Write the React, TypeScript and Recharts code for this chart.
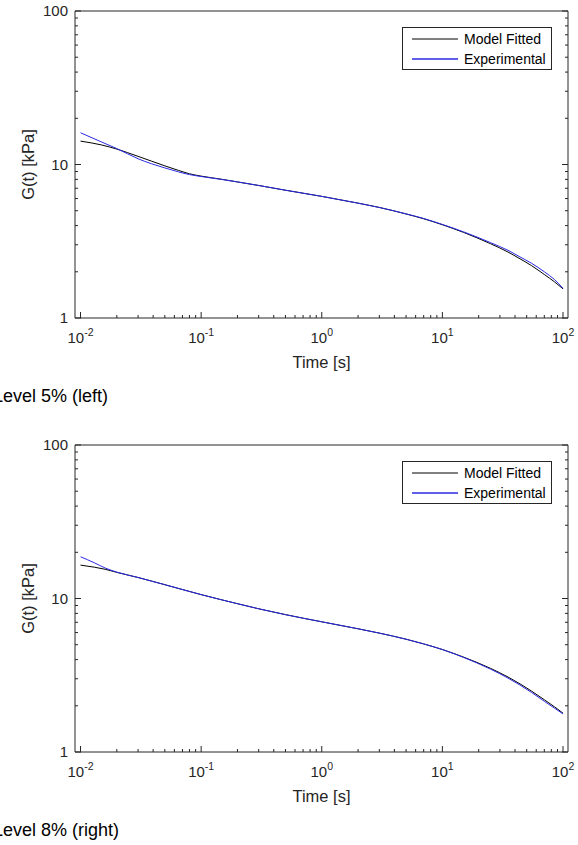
import React from "react";
import { LineChart, Line, XAxis, YAxis, Legend } from "recharts";

// Level 5% (left)
const times5 = [0.01, 0.015, 0.02, 0.03, 0.05, 0.065, 0.08, 0.1, 0.15, 0.2, 0.3, 0.5, 1, 2, 3, 5, 7, 10, 15, 25, 35, 44, 55, 70, 85, 100];
const model5 = [14.2, 13.4, 12.6, 11.3, 9.8, 9.15, 8.7, 8.4, 8.0, 7.7, 7.3, 6.8, 6.2, 5.6, 5.25, 4.76, 4.43, 4.05, 3.61, 3.05, 2.69, 2.43, 2.19, 1.92, 1.72, 1.55];
const exp5 = [16.1, 14.0, 12.7, 10.9, 9.5, 8.95, 8.6, 8.35, 7.98, 7.7, 7.3, 6.8, 6.2, 5.6, 5.25, 4.77, 4.45, 4.07, 3.64, 3.1, 2.76, 2.5, 2.27, 2.0, 1.78, 1.56];

// Level 8% (right)
const times8 = [0.01, 0.013, 0.016, 0.02, 0.03, 0.05, 0.1, 0.2, 0.3, 0.5, 1, 2, 3, 5, 7, 10, 15, 25, 35, 44, 55, 70, 85, 100];
const model8 = [16.5, 16.0, 15.5, 14.8, 13.7, 12.3, 10.6, 9.25, 8.57, 7.85, 7.05, 6.35, 5.95, 5.43, 5.06, 4.65, 4.15, 3.51, 3.08, 2.78, 2.49, 2.19, 1.97, 1.79];
const exp8 = [18.7, 17.1, 15.8, 14.85, 13.7, 12.3, 10.6, 9.25, 8.57, 7.85, 7.05, 6.35, 5.95, 5.43, 5.06, 4.65, 4.13, 3.47, 3.03, 2.73, 2.44, 2.14, 1.93, 1.77];

const SERIES_ORDER = ["Model Fitted", "Experimental"];

const X_DECADES = [0.01, 0.1, 1, 10, 100];
const X_EXPONENTS = ["-2", "-1", "0", "1", "2"];
const Y_DECADES = [1, 10, 100];
const Y_LABELS = ["1", "10", "100"];
const MINOR_STEPS = [2, 3, 4, 5, 6, 7, 8, 9];

const X_DOMAIN = [0.009, 110];
const Y_DOMAIN = [1, 100];

const AXIS = "#262626";
const FONT = '"Liberation Sans", Arial, Helvetica, sans-serif';

const withMinor = (decades: number[]) =>
  [
    ...decades,
    ...decades.slice(0, -1).flatMap((d) => MINOR_STEPS.map((m) => +(d * m).toPrecision(3))),
  ].sort((a, b) => a - b);

const X_TICKS = withMinor(X_DECADES);
const Y_TICKS = withMinor(Y_DECADES);

const decadeIndex = (list: number[], v: number) => list.findIndex((d) => Math.abs(d - v) < d * 1e-6);

const BottomTick = ({ x, y, payload }: any) => {
  const i = decadeIndex(X_DECADES, payload.value);
  const len = i >= 0 ? 6 : 3;
  return (
    <g>
      <line x1={x} x2={x} y1={y} y2={y - len} stroke={AXIS} strokeWidth={1} />
      {i >= 0 && (
        <text x={x} y={y + 25} textAnchor="middle" fill={AXIS} fontSize={15} fontFamily={FONT}>
          10
          <tspan dy={-7} fontSize={10.5}>{X_EXPONENTS[i]}</tspan>
        </text>
      )}
    </g>
  );
};

const TopTick = ({ x, y, payload }: any) => {
  const len = decadeIndex(X_DECADES, payload.value) >= 0 ? 6 : 3;
  return <line x1={x} x2={x} y1={y} y2={y + len} stroke={AXIS} strokeWidth={1} />;
};

const LeftTick = ({ x, y, payload }: any) => {
  const i = decadeIndex(Y_DECADES, payload.value);
  const len = i >= 0 ? 6 : 3;
  return (
    <g>
      <line x1={x} x2={x + len} y1={y} y2={y} stroke={AXIS} strokeWidth={1} />
      {i >= 0 && (
        <text x={x - 7} y={y + 5} textAnchor="end" fill={AXIS} fontSize={15} fontFamily={FONT}>
          {Y_LABELS[i]}
        </text>
      )}
    </g>
  );
};

const RightTick = ({ x, y, payload }: any) => {
  const len = decadeIndex(Y_DECADES, payload.value) >= 0 ? 6 : 3;
  return <line x1={x} x2={x - len} y1={y} y2={y} stroke={AXIS} strokeWidth={1} />;
};

const LegendBox = ({ payload }: any) => {
  const items = [...(payload || [])].sort(
    (a: any, b: any) => SERIES_ORDER.indexOf(a.value) - SERIES_ORDER.indexOf(b.value)
  );
  return (
    <div
      style={{
        width: 150,
        height: 43,
        boxSizing: "border-box",
        border: `1px solid ${AXIS}`,
        background: "#fff",
        padding: "1px 0 0 9px",
        fontFamily: FONT,
      }}
    >
      {items.map((e: any) => (
        <div key={e.value} style={{ display: "flex", alignItems: "center", height: 20 }}>
          <svg width={46} height={4}>
            <line x1={0} x2={46} y1={2} y2={2} stroke={e.color} strokeWidth={e.color === "#000" ? 1 : 1.6} />
          </svg>
          <span style={{ marginLeft: 6, fontSize: 14, color: "#000", whiteSpace: "nowrap" }}>{e.value}</span>
        </div>
      ))}
    </div>
  );
};

function RelaxationChart({ times, model, exp }: { times: number[]; model: number[]; exp: number[] }) {
  const rows = times.map((t, i) => ({ t, model: model[i], exp: exp[i] }));
  return (
    <LineChart width={578} height={380} data={rows} margin={{ top: 10, right: 9, left: 15, bottom: 0 }}>
      <XAxis
        xAxisId="b"
        dataKey="t"
        type="number"
        scale="log"
        domain={X_DOMAIN}
        allowDataOverflow
        ticks={X_TICKS}
        interval={0}
        tickSize={0}
        tickMargin={0}
        tickLine={false}
        axisLine={{ stroke: AXIS, strokeWidth: 1 }}
        height={62}
        tick={(p: any) => <BottomTick {...p} />}
        label={{ value: "Time [s]", position: "insideBottom", offset: 12, fill: AXIS, fontSize: 16.5, fontFamily: FONT }}
      />
      <XAxis
        xAxisId="t"
        orientation="top"
        type="number"
        scale="log"
        domain={X_DOMAIN}
        allowDataOverflow
        ticks={X_TICKS}
        interval={0}
        tickSize={0}
        tickMargin={0}
        tickLine={false}
        axisLine={{ stroke: AXIS, strokeWidth: 1 }}
        height={1}
        tick={(p: any) => <TopTick {...p} />}
      />
      <YAxis
        yAxisId="l"
        type="number"
        scale="log"
        domain={Y_DOMAIN}
        allowDataOverflow
        ticks={Y_TICKS}
        interval={0}
        tickSize={0}
        tickMargin={0}
        tickLine={false}
        axisLine={{ stroke: AXIS, strokeWidth: 1 }}
        width={60}
        tick={(p: any) => <LeftTick {...p} />}
        label={{
          value: "G(t) [kPa]",
          angle: -90,
          position: "insideLeft",
          offset: 13,
          fill: AXIS,
          fontSize: 16.5,
          fontFamily: FONT,
          style: { textAnchor: "middle" },
        }}
      />
      <YAxis
        yAxisId="r"
        orientation="right"
        type="number"
        scale="log"
        domain={Y_DOMAIN}
        allowDataOverflow
        ticks={Y_TICKS}
        interval={0}
        tickSize={0}
        tickMargin={0}
        tickLine={false}
        axisLine={{ stroke: AXIS, strokeWidth: 1 }}
        width={1}
        tick={(p: any) => <RightTick {...p} />}
      />
      <Line
        xAxisId="b"
        yAxisId="l"
        type="monotone"
        dataKey="model"
        name="Model Fitted"
        stroke="#000"
        strokeWidth={1}
        dot={false}
        isAnimationActive={false}
      />
      <Line
        xAxisId="b"
        yAxisId="l"
        type="monotone"
        dataKey="exp"
        name="Experimental"
        stroke="#2a2ae6"
        strokeWidth={1}
        dot={false}
        isAnimationActive={false}
      />
      <Legend
        layout="vertical"
        align="center"
        verticalAlign="middle"
        wrapperStyle={{ top: 27, left: 402, width: 150 }}
        content={(p: any) => <LegendBox {...p} />}
      />
    </LineChart>
  );
}

const captionStyle: React.CSSProperties = {
  position: "absolute",
  left: -7,
  fontFamily: FONT,
  fontSize: 18,
  color: "#000",
  whiteSpace: "nowrap",
  lineHeight: "20px",
};

export default function App() {
  return (
    <div style={{ position: "absolute", left: 0, top: 0, width: 578, height: 845, background: "#fff" }}>
      <div style={{ position: "absolute", left: 0, top: 0 }}>
        <RelaxationChart times={times5} model={model5} exp={exp5} />
      </div>
      <div style={{ ...captionStyle, top: 386 }}>Level 5% (left)</div>
      <div style={{ position: "absolute", left: 0, top: 434 }}>
        <RelaxationChart times={times8} model={model8} exp={exp8} />
      </div>
      <div style={{ ...captionStyle, top: 820 }}>Level 8% (right)</div>
    </div>
  );
}
